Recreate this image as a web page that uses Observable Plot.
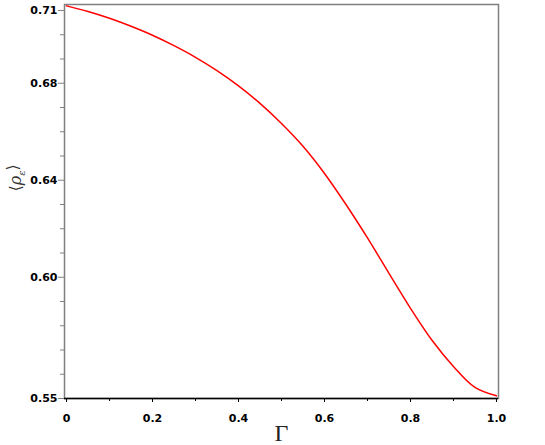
<!DOCTYPE html>
<html>
<head>
<meta charset="utf-8">
<script src="https://cdn.jsdelivr.net/npm/d3@7"></script>
<script src="https://cdn.jsdelivr.net/npm/@observablehq/plot@0.6"></script>
<style>
  html, body { margin: 0; padding: 0; background: white; }
</style>
</head>
<body>
<div id="chart"></div>
<script>
// Data
const gamma = [0, 0.05, 0.1, 0.15, 0.2, 0.25, 0.3, 0.35, 0.4, 0.45, 0.5,
               0.55, 0.6, 0.65, 0.7, 0.75, 0.8, 0.85, 0.9, 0.95, 1.0];
const rho = [0.7119, 0.7096, 0.7068, 0.7035, 0.6998, 0.6955, 0.6907, 0.6852, 0.6789, 0.6717, 0.6634,
             0.6540, 0.6428, 0.6300, 0.6162, 0.6016, 0.5872, 0.5740, 0.5632, 0.5546, 0.5511];

const yMajorTicks = [0.71, 0.68, 0.64, 0.60, 0.55];
const yTickLabels = ["0.71", "0.68", "0.64", "0.60", "0.55"];
const yMinorTicks = [0.56, 0.57, 0.58, 0.59, 0.61, 0.62, 0.63, 0.65, 0.66, 0.67, 0.69, 0.70];
const xMajorTicks = [0, 0.2, 0.4, 0.6, 0.8, 1.0];
const xTickLabels = ["0", "0.2", "0.4", "0.6", "0.8", "1.0"];
const xMinorTicks = [0.1, 0.3, 0.5, 0.7, 0.9];
const xTitle = "Γ";
const yTitle = "⟨ρε⟩";

const rows = gamma.map((g, i) => ({g, r: rho[i]}));

const chart = Plot.plot({
  width: 545,
  height: 445,
  marginLeft: 64,
  marginRight: 47,
  marginTop: 4,
  marginBottom: 47,
  x: {domain: [-0.0047, 1.0047]},
  y: {domain: [0.55, 0.71247]},
  style: {fontFamily: "DejaVu Sans", fontSize: "11px", fontWeight: "bold", background: "white"},
  marks: [
    Plot.frame({stroke: "#808080", strokeWidth: 1.5}),
    Plot.ruleY([0.55], {stroke: "black", strokeWidth: 1.5}),
    Plot.axisY(yMinorTicks, {tickSize: 4, stroke: "#808080", tickFormat: () => "", label: null}),
    Plot.axisY(yMajorTicks, {tickSize: 6, tickPadding: 1, stroke: "#808080",
      tickFormat: d => yTickLabels[yMajorTicks.indexOf(d)], label: null}),
    Plot.axisX(xMinorTicks, {tickSize: 3, stroke: "black", tickFormat: () => "", label: null}),
    Plot.axisX(xMajorTicks, {tickSize: 4, tickPadding: 12, stroke: "black",
      tickFormat: d => xTickLabels[xMajorTicks.indexOf(d)], label: null}),
    Plot.line(rows, {x: "g", y: "r", stroke: "red", strokeWidth: 1.5, curve: "catmull-rom"}),
    Plot.text([xTitle], {frameAnchor: "bottom", dy: 42, fontSize: 24,
      fontFamily: "Liberation Serif", fontWeight: "normal", fill: "#222"}),
    Plot.text([yTitle], {frameAnchor: "left", dx: -49, dy: -10, rotate: -90, fontSize: 16,
      fontFamily: "DejaVu Serif", fontWeight: "normal", fill: "#333"})
  ]
});

document.getElementById("chart").appendChild(chart);

// Render the y title with a subscript epsilon
d3.select(chart).selectAll("text").each(function() {
  if (this.textContent === yTitle) {
    const t = d3.select(this);
    t.text(null);
    t.append("tspan").text("⟨");
    t.append("tspan").text("ρ").attr("font-style", "italic");
    t.append("tspan").text("ε").attr("font-style", "italic").attr("font-size", "10px").attr("dy", "0.4em");
    t.append("tspan").text("⟩").attr("dy", "-0.4em");
  }
});
</script>
</body>
</html>
